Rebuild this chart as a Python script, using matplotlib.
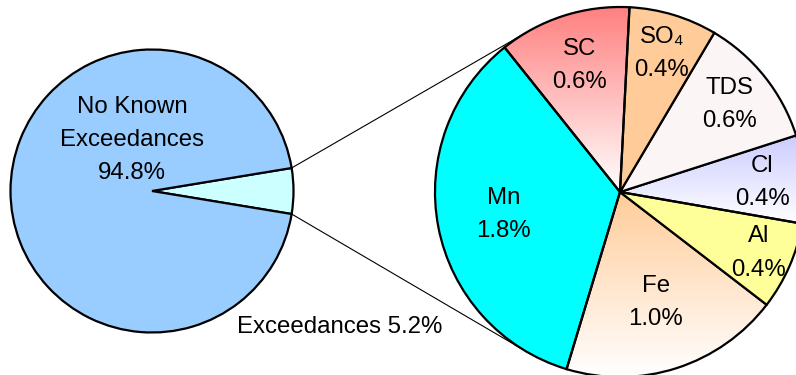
import numpy as np
import matplotlib
matplotlib.use("Agg")
import matplotlib.pyplot as plt
from matplotlib.colors import to_rgba

plt.rcParams['font.family'] = ['Liberation Sans', 'DejaVu Sans']

# ---- data ----
main_labels = ["Exceedances", "No Known\nExceedances"]
main_values = [5.2, 94.8]
main_colors = ["#CCFFFF", "#99CCFF"]

sub_labels = ["Mn", "Fe", "Al", "Cl", "TDS", "SO\u2084", "SC"]
sub_values = [1.8, 1.0, 0.4, 0.4, 0.6, 0.4, 0.6]
sub_colors = ["#00FFFF", "#FFCC99", "#FFFF99", "#CCCCFF", "#FBF5F5", "#FFCC99", "#FF8080"]
sub_gradient = [False, True, False, True, False, False, True]

# ---- layout (pixel-like data coordinates, y up) ----
W, H = 796, 375
fig = plt.figure(figsize=(W / 100, H / 100), dpi=100)
ax = fig.add_axes([0, 0, 1, 1])

c1, r1 = (152.0, 184.0), 141.5
c2, r2 = (620.0, 183.0), 185.0

exc_angle = main_values[0] / sum(main_values) * 360
w1, _ = ax.pie(main_values, colors=main_colors, center=c1, radius=r1,
               startangle=-exc_angle / 2, counterclock=True,
               wedgeprops=dict(edgecolor="black", linewidth=1.6))

w2, _ = ax.pie(sub_values, colors=sub_colors, center=c2, radius=r2,
               startangle=128.6, counterclock=True,
               wedgeprops=dict(edgecolor="black", linewidth=1.6))

# gradient fills (colour at top fading to white at bottom)
for wdg, col, grad in zip(w2, sub_colors, sub_gradient):
    if not grad:
        continue
    ext = wdg.get_path().get_extents()
    top = np.array(to_rgba(col))
    bot = np.array([1, 1, 1, 1.0])
    t = np.linspace(0, 1, 256)[:, None]
    arr = (top[None, :] * (1 - t) + bot[None, :] * t)[:, None, :]
    im = ax.imshow(arr, extent=(ext.x0, ext.x1, ext.y0, ext.y1), origin="upper",
                   aspect="auto", interpolation="bilinear", zorder=0.5)
    im.set_clip_path(wdg)
    wdg.set_facecolor("none")

# connector lines: from slice edge of first pie, tangent to second pie
for sgn in (+1, -1):
    ang = np.deg2rad(sgn * exc_angle / 2)
    P = np.array([c1[0] + r1 * np.cos(ang), c1[1] + r1 * np.sin(ang)])
    C = np.array(c2)
    d = np.linalg.norm(P - C)
    phi = np.arctan2(P[1] - C[1], P[0] - C[0])
    alpha = np.arccos(r2 / d)
    th = phi - alpha if sgn > 0 else phi + alpha
    T = C + r2 * np.array([np.cos(th), np.sin(th)])
    ax.plot([P[0], T[0]], [P[1], T[1]], color="black", lw=0.8, zorder=0.8)

fs = 17.3
ls = 1.65
# first pie labels
ax.text(c1[0] - 20, c1[1] + 51, f"{main_labels[1]}\n{main_values[1]:.1f}%",
        ha="center", va="center", fontsize=fs, linespacing=ls)
ax.text(340, 375 - 327, f"{main_labels[0]} {main_values[0]:.1f}%",
        ha="center", va="center", fontsize=fs)

# second pie labels
fracs = [0.64, 0.63, 0.82, 0.77, 0.76, 0.78, 0.72]
for wdg, lab, val, fr in zip(w2, sub_labels, sub_values, fracs):
    mid = np.deg2rad((wdg.theta1 + wdg.theta2) / 2)
    x = c2[0] + fr * r2 * np.cos(mid)
    y = c2[1] + fr * r2 * np.sin(mid)
    ax.text(x, y, f"{lab}\n{val:.1f}%", ha="center", va="center",
            fontsize=fs, linespacing=ls)

ax.set_xlim(0, W)
ax.set_ylim(0, H)
ax.set_aspect("auto")
ax.axis("off")
fig.savefig("out.png", dpi=100)
